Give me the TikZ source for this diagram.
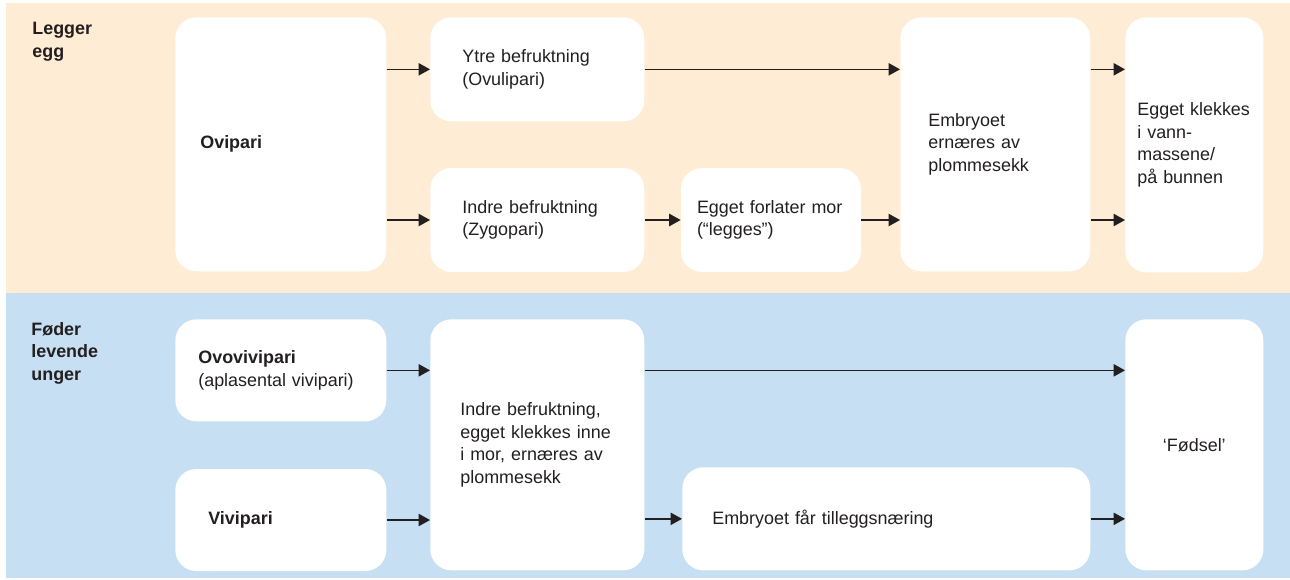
\documentclass[tikz,border=0pt]{standalone}
\usepackage{fontspec}
\setmainfont{Liberation Sans}
\usepackage{xcolor}
\usepackage{tikz}
\usetikzlibrary{arrows.meta}
\usetikzlibrary{positioning}

\definecolor{ink}{RGB}{35,31,32}
\definecolor{eggband}{RGB}{254,236,212}
\definecolor{liveband}{RGB}{199,223,243}

\begin{document}
\begin{tikzpicture}
[
	x = 0.02cm, y = -0.02cm,
	stage/.style	= {rectangle, rounded corners = 0.42cm, fill = white, align = left, inner ysep = 0cm, text = ink, font = \fontsize{10.2}{12.75}\selectfont},
	group/.style	= {align = left, inner sep = 0cm, text = ink, font = \fontsize{10.2}{12.75}\selectfont\bfseries},
	flow/.style	= {draw = ink, line width = 0.8pt, -{Triangle[length = 6.5pt, width = 7pt]}},
]

	\useasboundingbox (0, 0) rectangle (1290, 580);
	\fill [eggband] (6, 3) rectangle (1290, 293);
	\fill [liveband] (6, 293) rectangle (1290, 578);

	\node (legger) [group, anchor = north west] at (32, 22) {Legger\\egg};
	\node (foder) [group, anchor = north west] at (31, 322) {Føder\\levende\\unger};

	\node (ovi) [stage, anchor = north west, text width = 3.22cm, inner xsep = 0.5cm, minimum height = 5.08cm] at (175, 17) {\textbf{Ovipari}};
	\node (ytre) [stage, anchor = north west, text width = 3cm, inner xsep = 0.64cm, minimum height = 2.08cm] at (430, 17) {Ytre befruktning\\(Ovulipari)};
	\node (indre) [stage, text width = 3cm, inner xsep = 0.64cm, minimum height = 2.08cm, below = 0.92cm of ytre] {Indre befruktning\\(Zygopari)};
	\node (egget) [stage, text width = 2.96cm, inner xsep = 0.32cm, minimum height = 2.08cm, right = 0.72cm of indre] {Egget forlater mor\\(“legges”)};
	\node (embryo) [stage, anchor = north west, text width = 2.68cm, inner xsep = 0.56cm, minimum height = 5.08cm] at (900, 17) {Embryoet\\ernæres av\\plommesekk};
	\node (klekk) [stage, anchor = north west, text width = 2.28cm, inner xsep = 0.24cm, minimum height = 5.1cm] at (1125, 17) {Egget klekkes\\i vann-\\massene/\\på bunnen};
	%
	\node (ovovi) [stage, anchor = north west, text width = 3.3cm, inner xsep = 0.46cm, minimum height = 2.04cm] at (175, 319) {\textbf{Ovovivipari}\\(aplasental vivipari)};
	\node (vivi) [stage, text width = 2.9cm, inner xsep = 0.66cm, minimum height = 2.04cm, below = 0.94cm of ovovi] {\textbf{Vivipari}};
	\node (inne) [stage, anchor = north west, text width = 3.08cm, inner xsep = 0.6cm, minimum height = 5.02cm] at (430, 319) {Indre befruktning,\\egget klekkes inne\\i mor, ernæres av\\plommesekk};
	\node (tillegg) [stage, anchor = north west, text width = 6.96cm, inner xsep = 0.6cm, minimum height = 2.06cm] at (682, 467) {Embryoet får tilleggsnæring};
	\node (fodsel) [stage, anchor = north west, align = center, text width = 2.16cm, inner xsep = 0.3cm, minimum height = 5.02cm] at (1125, 319) {‘Fødsel’};

	\draw [flow] (ovi.east |- ytre.west) -- (ytre.west);
	\draw [flow] (ovi.east |- indre.west) -- (indre.west);
	\draw [flow] (ytre.east) -- (embryo.west |- ytre.east);
	\draw [flow] (indre) -- (egget);
	\draw [flow] (egget.east) -- (embryo.west |- egget.east);
	\draw [flow] (embryo.east |- ytre.east) -- (klekk.west |- ytre.east);
	\draw [flow] (embryo.east |- egget.east) -- (klekk.west |- egget.east);
	%
	\draw [flow] (ovovi.east) -- (inne.west |- ovovi.east);
	\draw [flow] (vivi.east) -- (inne.west |- vivi.east);
	\draw [flow] (inne.east |- ovovi.east) -- (fodsel.west |- ovovi.east);
	\draw [flow] (inne.east |- tillegg.west) -- (tillegg.west);
	\draw [flow] (tillegg.east) -- (fodsel.west |- tillegg.east);

\end{tikzpicture}
\end{document}
